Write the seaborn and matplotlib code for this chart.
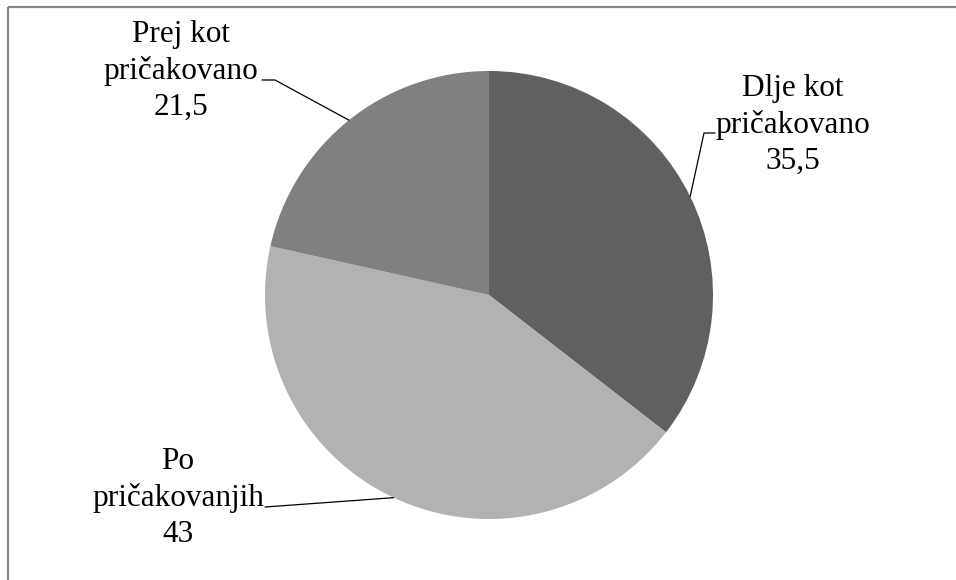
import matplotlib
matplotlib.use("Agg")
import matplotlib.pyplot as plt
import seaborn as sns
import numpy as np

categories = ["Dlje kot\npričakovano", "Po\npričakovanjih", "Prej kot\npričakovano"]
values = [35.5, 43, 21.5]
value_labels = ["35,5", "43", "21,5"]
colors = ["#606060", "#b2b2b2", "#808080"]

sns.set_theme(style="white")
plt.rcParams['font.family'] = ['Liberation Serif', 'DejaVu Serif']

W, H = 956, 580
fig = plt.figure(figsize=(W / 100, H / 100), dpi=100)
ax = fig.add_axes([0, 0, 1, 1])

def Y(y):
    return H - y

cx, cy, r = 489, 295, 224
wedges, _ = ax.pie(values, colors=colors, startangle=90, counterclock=False,
                   center=(cx, Y(cy)), radius=r, frame=True,
                   wedgeprops=dict(linewidth=0))
ax.set_xlim(0, W)
ax.set_ylim(0, H)
ax.axis("off")

# border (top and left)
ax.plot([8, W], [Y(7), Y(7)], color="#858585", lw=1.6, solid_capstyle="butt", clip_on=False)
ax.plot([8, 8], [Y(7), Y(H)], color="#858585", lw=1.6, solid_capstyle="butt", clip_on=False)

# labels
label_pos = [(793, 125), (178, 498), (181, 71)]
for cat, vl, (lx, ly) in zip(categories, value_labels, label_pos):
    ax.text(lx, Y(ly), f"{cat}\n{vl}", ha="center", va="center",
            multialignment="center", fontsize=22.5, linespacing=1.3, color="#000000")

# leader lines (from label to wedge edge midpoint)
leaders = [
    [(715, 133), (704, 133)],
    [(265, 507)],
    [(262, 80), (275, 80)],
]
for w, pts in zip(wedges, leaders):
    mid = np.deg2rad((w.theta1 + w.theta2) / 2)
    ex, ey = cx + r * np.cos(mid), Y(cy) + r * np.sin(mid)
    xs = [p[0] for p in pts] + [ex]
    ys = [Y(p[1]) for p in pts] + [ey]
    ax.plot(xs, ys, color="#000000", lw=0.9)

fig.savefig("out.png", dpi=100)
